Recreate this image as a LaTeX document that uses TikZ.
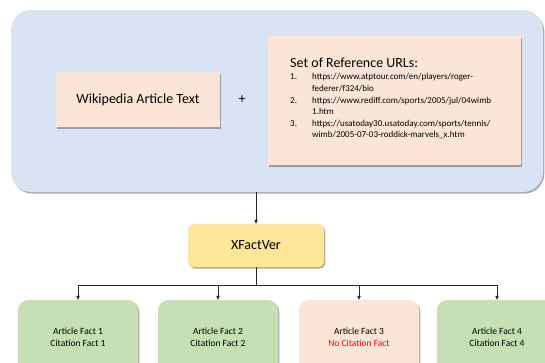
\documentclass[tikz,border=0pt]{standalone}
\usepackage{fontspec}
\setmainfont{Carlito}
\usetikzlibrary{arrows.meta,shadows}

\definecolor{panelblue}{HTML}{DAE3F3}
\definecolor{peach}{HTML}{FBE5D6}
\definecolor{gold}{HTML}{FFE699}
\definecolor{sage}{HTML}{C5E0B4}
\definecolor{alertred}{HTML}{FF0000}

\tikzset{
  shade box/.style={inner sep=0pt, align=center,
    drop shadow={shadow xshift=1.3pt, shadow yshift=-1.6pt, fill=black!60, opacity=0.55}},
  fact/.style={shade box, fill=sage, rounded corners=10pt, minimum width=120pt,
    minimum height=74pt, font=\fontsize{9.5}{12}\selectfont},
  link/.style={line width=0.6pt, draw=black!85},
  arr/.style={link, -{Triangle[length=4pt, width=3.4pt]}}
}

\begin{document}
\begin{tikzpicture}[x=1pt, y=-1pt]
  \useasboundingbox (0,0) rectangle (545,362);

  %%%%% inputs %%%%%
  \node[shade box, fill=panelblue, rounded corners=20pt, minimum width=532pt,
    minimum height=182pt] (panel) at (277,101) {};

  \node[shade box, fill=peach, minimum width=164pt, minimum height=55pt,
    font=\fontsize{14}{16}\selectfont] (wiki) at (138,99.5) {Wikipedia Article Text};
  \node[font=\fontsize{14}{16}\selectfont] (plus) at (242,100) {+};
  \node[shade box, fill=peach, minimum width=253pt, minimum height=129pt] (urls) at (394.5,100.5) {};

  \node[anchor=west, inner sep=0pt, font=\fontsize{14}{16}\selectfont] (urltitle) at (290,63) {Set of Reference URLs:};
  \node[anchor=north west, inner sep=0pt, font=\fontsize{9}{11.6}\selectfont] (urllist) at (290,71.5) {%
    \begin{tabular}{@{}p{22pt}@{}l@{}}
      1. & https://www.atptour.com/en/players/roger-\\
         & federer/f324/bio\\
      2. & https://www.rediff.com/sports/2005/jul/04wimb\\
         & 1.htm\\
      3. & https://usatoday30.usatoday.com/sports/tennis/\\
         & wimb/2005-07-03-roddick-marvels\_x.htm
    \end{tabular}};

  %%%%% model %%%%%
  \node[shade box, fill=gold, rounded corners=6pt, minimum width=136pt, minimum height=43pt,
    font=\fontsize{14}{16}\selectfont] (xfv) at (256,245.5) {XFactVer};

  %%%%% facts %%%%%
  \node[fact] (f1) at (78,337)  {Article Fact 1\\Citation Fact 1};
  \node[fact] (f2) at (218,337) {Article Fact 2\\Citation Fact 2};
  \node[fact, fill=peach] (f3) at (359,337) {Article Fact 3\\\textcolor{alertred}{No Citation Fact}};
  \node[fact] (f4) at (497,337) {Article Fact 4\\Citation Fact 4};

  %%%%% connectors %%%%%
  \draw[arr] (panel.south -| xfv.north) -- (xfv.north);
  \coordinate (split) at (256,285);
  \draw[link] (xfv.south) -- (split);
  \foreach \f in {f1,f2,f3,f4}
    \draw[arr] (split) -| (\f.north);
\end{tikzpicture}
\end{document}
